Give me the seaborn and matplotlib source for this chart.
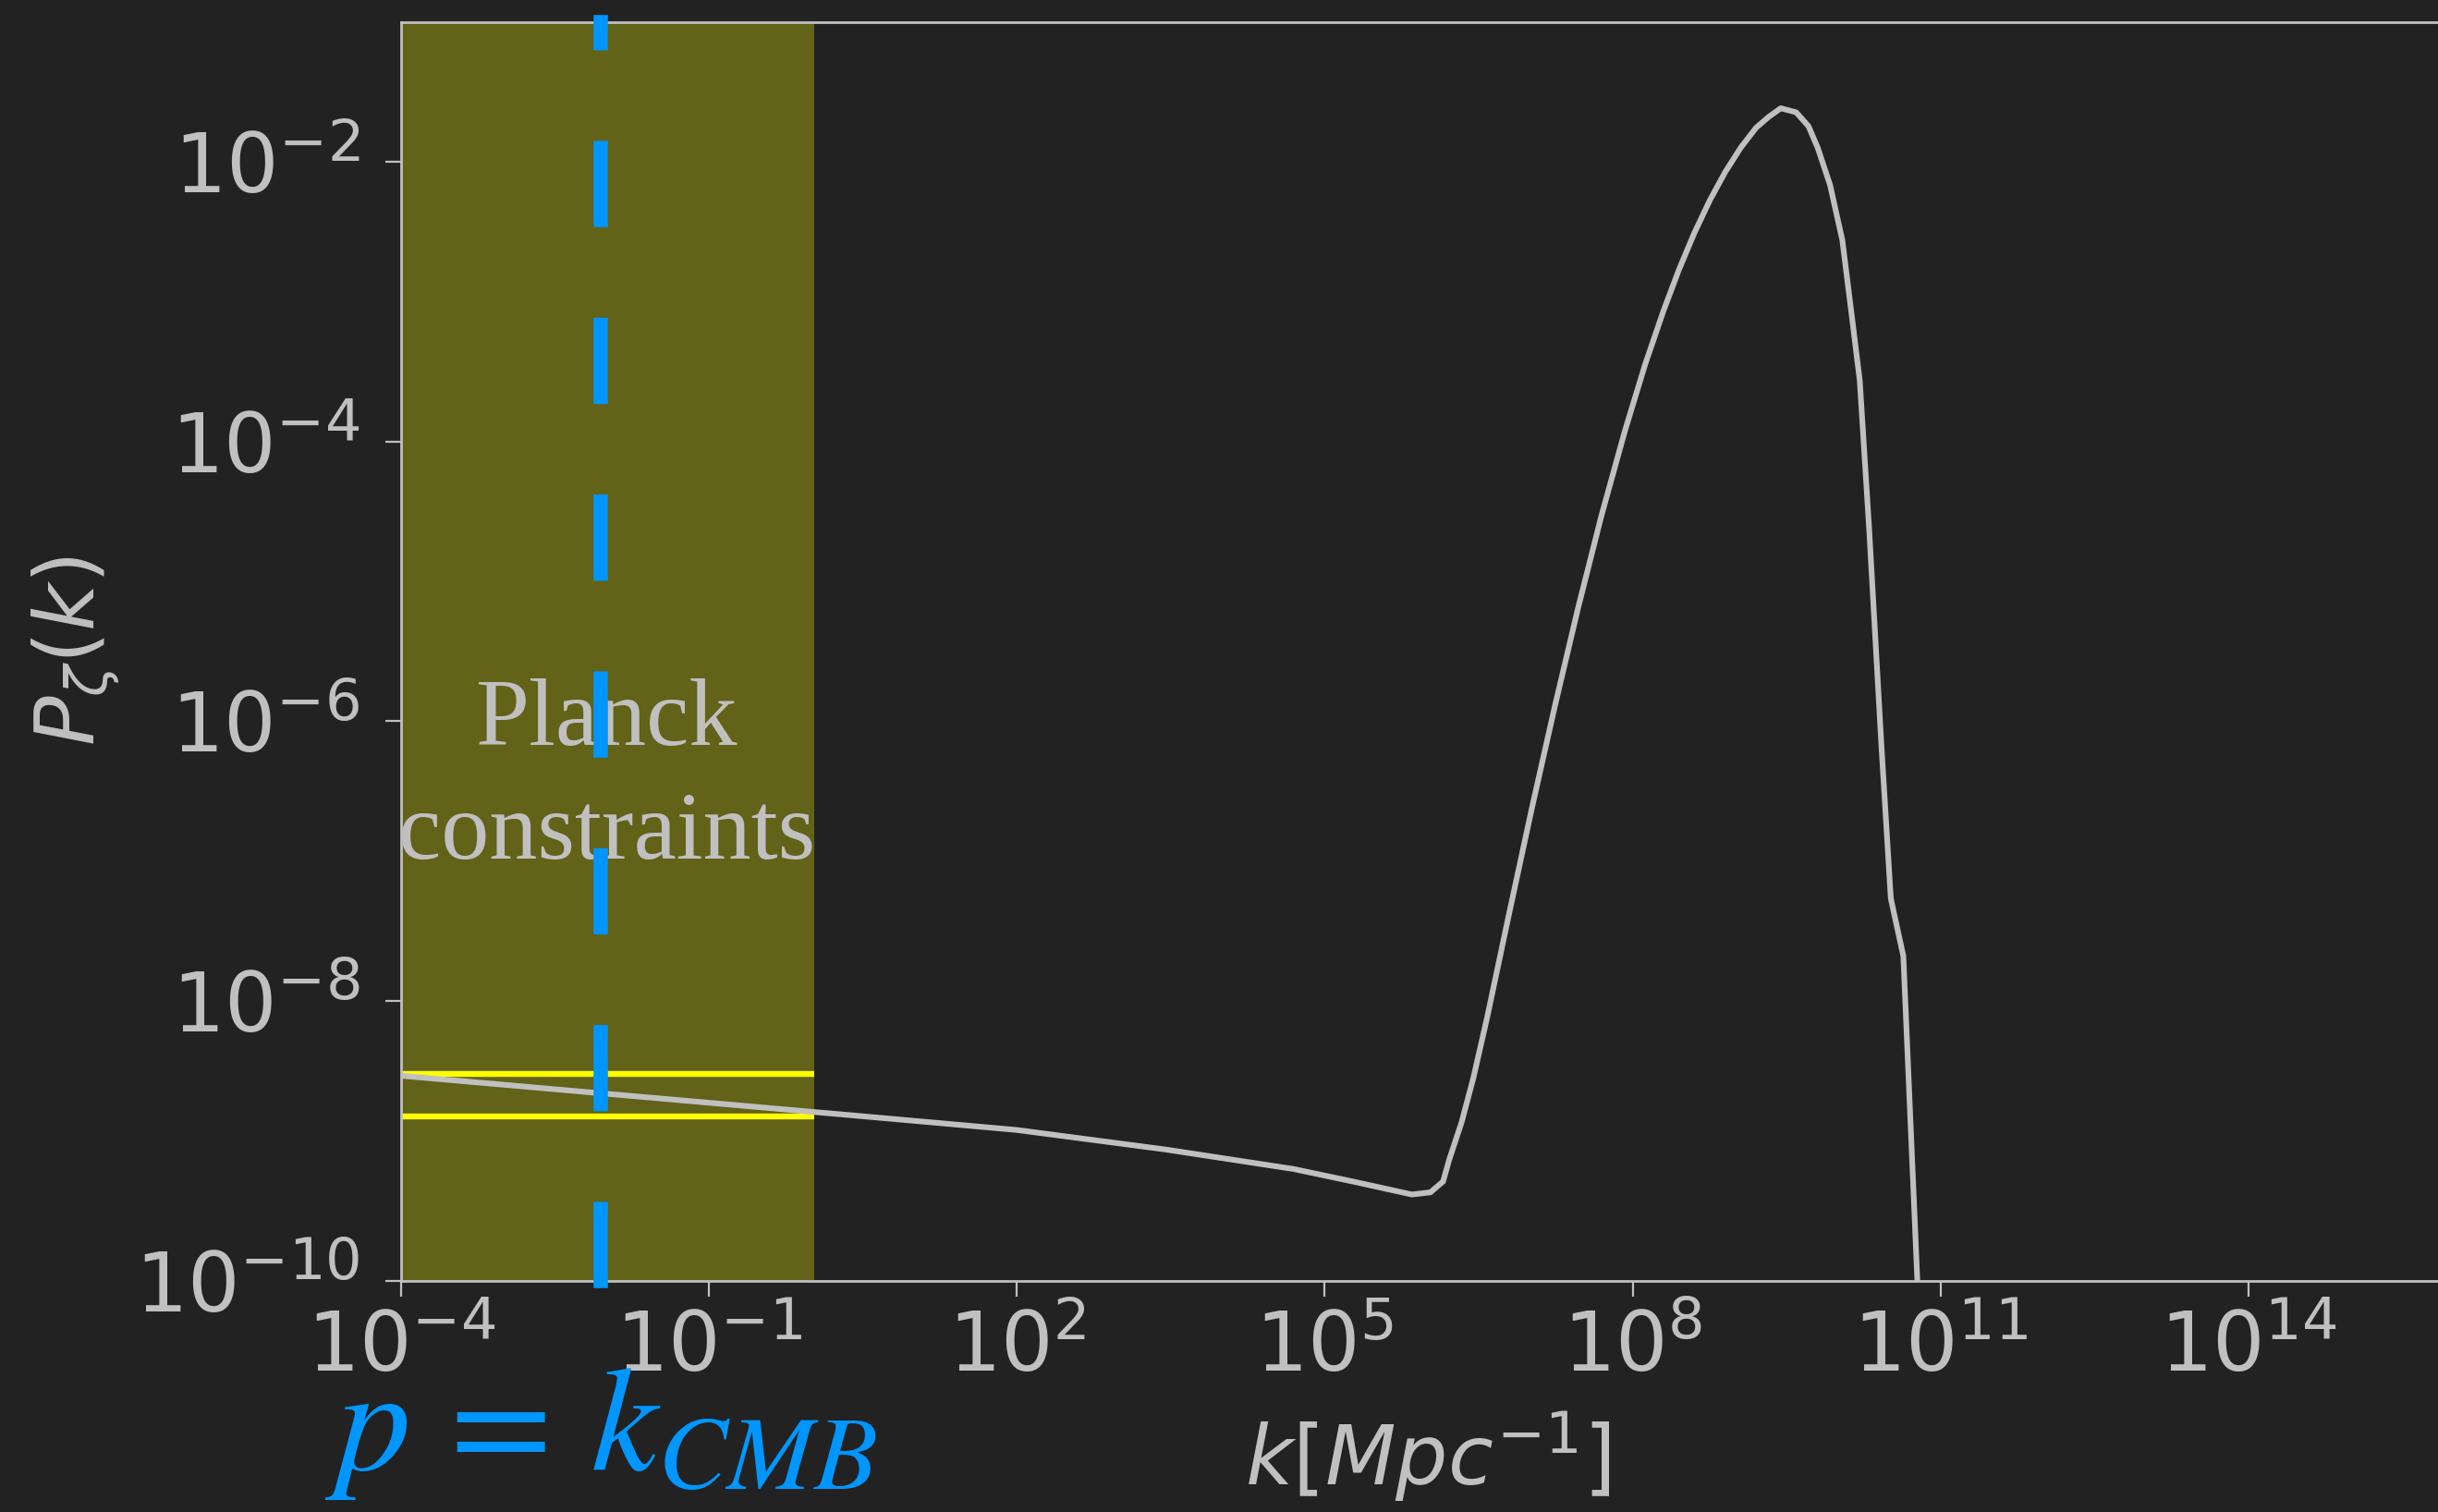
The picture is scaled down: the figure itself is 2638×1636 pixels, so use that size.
import numpy as np
import pandas as pd
import matplotlib
matplotlib.use("Agg")
import matplotlib.pyplot as plt
import matplotlib.ticker as mticker
import seaborn as sns

# ---- data ----
k_values = [1.0e-4, 1.42e-2, 3.64, 100.0, 2.85e3, 4.98e4, 1.875e5, 7.05e5,
            1.07e6, 1.42e6, 1.63e6, 2.15e6, 2.80e6, 3.83e6, 6.14e6, 1.035e7,
            1.746e7, 2.95e7, 4.98e7, 8.39e7, 1.32e8, 2.00e8, 2.82e8, 3.99e8,
            5.64e8, 7.96e8, 1.125e9, 1.589e9, 2.094e9, 2.767e9, 3.908e9,
            5.152e9, 6.339e9, 8.356e9, 1.102e10, 1.403e10, 1.63e10, 2.01e10,
            2.65e10, 3.27e10, 4.33e10, 5.93e10, 6.14e10]
P_values = [2.93e-9, 2.13e-9, 1.49e-9, 1.20e-9, 8.69e-10, 6.31e-10, 5.14e-10, 4.15e-10,
            4.30e-10, 5.14e-10, 7.36e-10, 1.36e-9, 2.82e-9, 7.74e-9, 3.98e-8, 2.35e-7,
            1.29e-6, 6.56e-6, 2.99e-5, 1.19e-4, 3.55e-4, 8.65e-4, 1.69e-3, 3.10e-3,
            5.30e-3, 8.43e-3, 1.256e-2, 1.746e-2, 2.08e-2, 2.41e-2, 2.254e-2,
            1.795e-2, 1.259e-2, 6.84e-3, 2.75e-3, 6.65e-4, 2.71e-4, 2.39e-5,
            6.64e-7, 5.41e-8, 2.10e-8, 1.0e-10, 5.1e-11]

planck_k_range = [1e-4, 1.07]
planck_bounds = [3.0e-9, 1.5e-9]
k_cmb = 8.8e-3

x_ticks = [1e-4, 1e-1, 1e2, 1e5, 1e8, 1e11, 1e14]
y_ticks = [1e-10, 1e-8, 1e-6, 1e-4, 1e-2]
x_limits = [1e-4, 1e16]
y_limits = [1e-10, 1e-1]

planck_label = "Planck\nconstraints"
cmb_label = r"$p\,=\,k_{CMB}$"
x_label = r"$k[Mpc^{-1}]$"
y_label = r"$P_\zeta(k)$"

# ---- style ----
bg = "#222222"
fg = "#c0c0c0"
blue = "#0096ff"

sns.set_theme(style="dark")
sns.set_style({
    "figure.facecolor": bg, "axes.facecolor": bg, "axes.edgecolor": fg,
    "text.color": fg, "axes.labelcolor": fg, "xtick.color": fg, "ytick.color": fg,
    "xtick.bottom": True, "ytick.left": True, "axes.grid": False,
})
plt.rcParams["font.family"] = ["DejaVu Sans"]
plt.rcParams["mathtext.fontset"] = "dejavusans"

fig = plt.figure(figsize=(13.19, 8.18), dpi=200)
ax = fig.add_axes([0.1645, 0.1528, 0.842, 0.8328])

df = pd.DataFrame({"k": k_values, "P": P_values})

ax.axvspan(planck_k_range[0], planck_k_range[1], color="yellow", alpha=0.29,
           lw=0, zorder=0)
sns.lineplot(data=df, x="k", y="P", ax=ax, color=fg, lw=2.2, estimator=None,
             sort=False, zorder=3)
ax.hlines(planck_bounds, planck_k_range[0], planck_k_range[1], colors="yellow",
          lw=2.3, zorder=2)

ax.set_xscale("log")
ax.set_yscale("log")
ax.set_xlim(*x_limits)
ax.set_ylim(*y_limits)
ax.set_xticks(x_ticks)
ax.set_yticks(y_ticks)
ax.xaxis.set_minor_locator(mticker.NullLocator())
ax.yaxis.set_minor_locator(mticker.NullLocator())
ax.xaxis.set_major_formatter(mticker.LogFormatterSciNotation())
ax.yaxis.set_major_formatter(mticker.LogFormatterSciNotation())
ax.tick_params(axis="both", which="major", labelsize=32, length=6.2, width=0.8,
               direction="out", color=fg, labelcolor=fg)
ax.tick_params(axis="y", pad=10)
ax.tick_params(axis="x", pad=4.5)

for s in ax.spines.values():
    s.set_color(fg)
    s.set_linewidth(1.0)

ax.set_xlabel(x_label, fontsize=32, color=fg, labelpad=8)
ax.set_ylabel(y_label, fontsize=32, color=fg, labelpad=5)

ax.axvline(k_cmb, color=blue, lw=5.6, dashes=(5, 7.3),
           dash_capstyle="projecting", clip_on=False, zorder=6)

# va='baseline' aligns the last line's baseline
ax.text(1e-2, 10 ** -6.978, planck_label, ha="center", va="baseline",
        fontsize=37.5, family=["Liberation Serif", "DejaVu Serif"], color=fg,
        linespacing=1.4, zorder=4)

ax.text(k_cmb, -0.1497, cmb_label, transform=ax.get_xaxis_transform(),
        ha="center", va="baseline", fontsize=58, color=blue,
        math_fontfamily="stix", clip_on=False)

fig.savefig("out.png", dpi=200, facecolor=bg)
